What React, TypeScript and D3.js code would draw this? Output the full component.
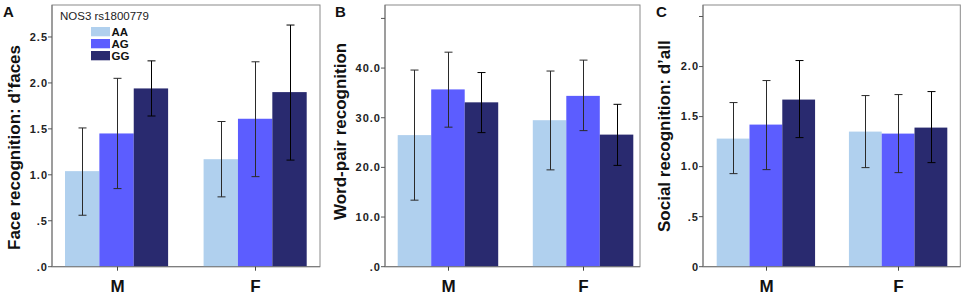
import React from "react";
import * as d3 from "d3";

// ---- data ----
const categories = ["M", "F"];
const genotypes = ["AA", "AG", "GG"];
const legendTitle = "NOS3 rs1800779";

// rows: M, F ; columns: AA, AG, GG
const faceMeans = [[1.04, 1.45, 1.94], [1.17, 1.61, 1.9]];
const faceLow = [[0.56, 0.85, 1.64], [0.76, 0.98, 1.16]];
const faceHigh = [[1.51, 2.05, 2.24], [1.58, 2.23, 2.63]];
const faceTicks = [0, 0.5, 1.0, 1.5, 2.0, 2.5];
const faceTickLabels = [".0", ".5", "1.0", "1.5", "2.0", "2.5"];

const wordMeans = [[26.5, 35.7, 33.1], [29.5, 34.4, 26.6]];
const wordLow = [[13.4, 28.1, 27.0], [19.5, 27.4, 20.4]];
const wordHigh = [[39.6, 43.2, 39.1], [39.4, 41.6, 32.7]];
const wordTicks = [0, 10, 20, 30, 40, 50];
const wordTickLabels = [".0", "10.0", "20.0", "30.0", "40.0", ""];

const socialMeans = [[1.28, 1.42, 1.67], [1.35, 1.33, 1.39]];
const socialLow = [[0.93, 0.97, 1.29], [0.99, 0.94, 1.04]];
const socialHigh = [[1.64, 1.86, 2.06], [1.71, 1.72, 1.75]];
const socialTicks = [0, 0.5, 1.0, 1.5, 2.0, 2.5];
const socialTickLabels = ["0", ".5", "1.0", "1.5", "2.0", ""];

const colors = ["#b0d0ee", "#5c5dff", "#292a6f"];

const FONT = "'Liberation Sans', Arial, Helvetica, sans-serif";

type PanelProps = {
  letter: string;
  letterX: number;
  yLabel: string;
  yLabelX: number;
  yLabelY: number;
  frameLeft: number;
  frameRight: number;
  barsLeft: number;
  barsRight: number;
  yMax: number;
  means: number[][];
  low: number[][];
  high: number[][];
  ticks: number[];
  tickLabels: string[];
  legend?: boolean;
};

const TOP = 5;
const BOTTOM = 266.7;

function Panel(p: PanelProps) {
  const y = d3.scaleLinear().domain([0, p.yMax]).range([BOTTOM, TOP]);
  const x = d3
    .scaleBand<string>()
    .domain(categories)
    .range([p.barsLeft, p.barsRight])
    .paddingInner(0.256)
    .paddingOuter(0);
  const xi = d3
    .scaleBand<string>()
    .domain(genotypes)
    .range([0, x.bandwidth()])
    .padding(0);
  const capW = 4;
  return (
    <g>
      <text
        x={p.letterX}
        y={17}
        fontFamily={FONT}
        fontWeight="bold"
        fontSize={15}
        fill="#111"
      >
        {p.letter}
      </text>
      {/* frame */}
      <rect
        x={p.frameLeft}
        y={TOP}
        width={p.frameRight - p.frameLeft}
        height={BOTTOM - TOP}
        fill="#fff"
        stroke="#8a8a8a"
        strokeWidth={1}
      />
      {/* bars */}
      {categories.map((c, ci) =>
        genotypes.map((g, gi) => {
          const bx = (x(c) as number) + (xi(g) as number);
          const v = p.means[ci][gi];
          return (
            <rect
              key={c + g}
              x={bx}
              y={y(v)}
              width={xi.bandwidth()}
              height={BOTTOM - y(v)}
              fill={colors[gi]}
            />
          );
        })
      )}
      {/* error bars */}
      {categories.map((c, ci) =>
        genotypes.map((g, gi) => {
          const cx = Math.round((x(c) as number) + (xi(g) as number) + xi.bandwidth() / 2) + 0.5;
          const lo = y(p.low[ci][gi]);
          const hi = y(p.high[ci][gi]);
          return (
            <g key={"e" + c + g} stroke={gi === 2 ? "#000" : "#2a2a2a"} strokeWidth={1}>
              <line x1={cx} x2={cx} y1={lo} y2={hi} />
              <line x1={cx - capW} x2={cx + capW} y1={lo} y2={lo} />
              <line x1={cx - capW} x2={cx + capW} y1={hi} y2={hi} />
            </g>
          );
        })
      )}
      {/* axes */}
      <line x1={p.frameLeft} x2={p.frameLeft} y1={TOP} y2={BOTTOM} stroke="#777" />
      <line x1={p.frameLeft} x2={p.frameRight} y1={BOTTOM} y2={BOTTOM} stroke="#777" />
      {p.ticks.map((t, i) => (
        <g key={"t" + i}>
          <line
            x1={p.frameLeft - 4}
            x2={p.frameLeft}
            y1={y(t)}
            y2={y(t)}
            stroke="#555"
          />
          <text
            x={p.frameLeft - 4}
            y={y(t)}
            dy="0.35em"
            textAnchor="end"
            fontFamily={FONT}
            fontWeight="bold"
            fontSize={11}
            letterSpacing={1}
            fill="#222"
          >
            {p.tickLabels[i]}
          </text>
        </g>
      ))}
      {categories.map((c) => {
        const cx = Math.round((x(c) as number) + x.bandwidth() / 2) + 0.5;
        return (
          <g key={"x" + c}>
            <line x1={cx} x2={cx} y1={BOTTOM} y2={BOTTOM + 4} stroke="#444" />
            <text
              x={cx}
              y={292}
              textAnchor="middle"
              fontFamily={FONT}
              fontWeight="bold"
              fontSize={17}
              fill="#111"
            >
              {c}
            </text>
          </g>
        );
      })}
      <text
        transform={`translate(${p.yLabelX},${p.yLabelY}) rotate(-90)`}
        textAnchor="start"
        fontFamily={FONT}
        fontWeight="bold"
        fontSize={17}
        fill="#111"
      >
        {p.yLabel}
      </text>
      {p.legend && (
        <g fontFamily={FONT}>
          <text x={60} y={20} fontSize={11.5} fill="#222">
            {legendTitle}
          </text>
          {genotypes.map((g, gi) => (
            <g key={"l" + g}>
              <rect x={91} y={27 + gi * 12} width={19} height={9.3} fill={colors[gi]} />
              <text
                x={111.5}
                y={35.8 + gi * 12}
                fontSize={11.5}
                fontWeight="bold"
                fill="#111"
              >
                {g}
              </text>
            </g>
          ))}
        </g>
      )}
    </g>
  );
}

export default function App() {
  return (
    <svg
      width={964}
      height={297}
      style={{ position: "absolute", left: 0, top: 0, background: "#fff" }}
    >
      <rect width={964} height={297} fill="#fff" />
      <Panel
        letter="A"
        letterX={3}
        yLabel="Face recognition: d’faces"
        yLabelX={20}
        yLabelY={250}
        frameLeft={52}
        frameRight={320}
        barsLeft={65}
        barsRight={306.7}
        yMax={2.848}
        means={faceMeans}
        low={faceLow}
        high={faceHigh}
        ticks={faceTicks}
        tickLabels={faceTickLabels}
        legend
      />
      <Panel
        letter="B"
        letterX={335}
        yLabel="Word-pair recognition"
        yLabelX={345.7}
        yLabelY={220}
        frameLeft={385}
        frameRight={640}
        barsLeft={397.7}
        barsRight={633.3}
        yMax={52.7}
        means={wordMeans}
        low={wordLow}
        high={wordHigh}
        ticks={wordTicks}
        tickLabels={wordTickLabels}
      />
      <Panel
        letter="C"
        letterX={656}
        yLabel="Social recognition: d’all"
        yLabelX={670}
        yLabelY={232}
        frameLeft={703}
        frameRight={960.3}
        barsLeft={716.7}
        barsRight={947.3}
        yMax={2.615}
        means={socialMeans}
        low={socialLow}
        high={socialHigh}
        ticks={socialTicks}
        tickLabels={socialTickLabels}
      />
    </svg>
  );
}
